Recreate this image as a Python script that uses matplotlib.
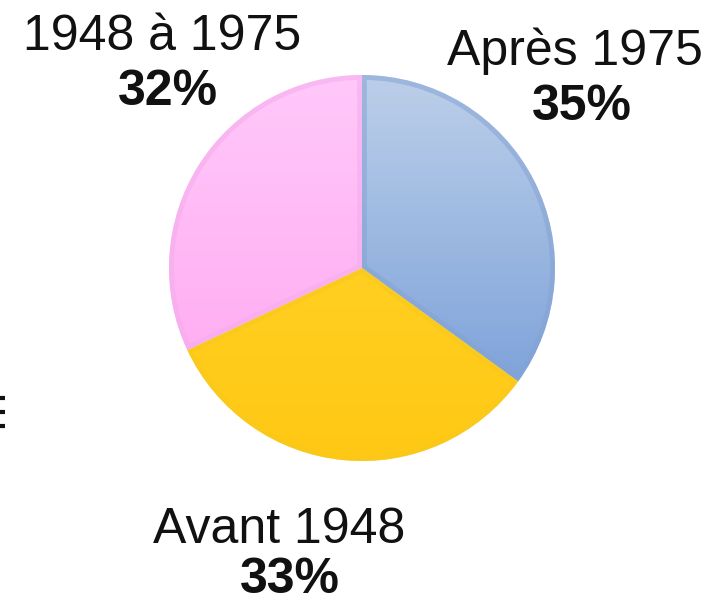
import numpy as np
import matplotlib
matplotlib.use("Agg")
import matplotlib.pyplot as plt
from matplotlib.patches import Wedge
from matplotlib.colors import LinearSegmentedColormap

plt.rcParams['font.family'] = ['Liberation Sans', 'DejaVu Sans']

# data
labels = ['Après 1975', 'Avant 1948', '1948 à 1975']
shares = [35, 33, 32]
# gradient colours (top, bottom) and rim colour per slice
top_cols = ['#bccfe9', '#ffd72f', '#ffc8fa']
bot_cols = ['#6f98d6', '#ffc814', '#ffa4ef']
rim_cols = ['#85a3d4', '#f7c91c', '#f4acec']

# label baselines in pixels (x center, baseline y) for label / percentage
label_pos = [(575, 65), (279, 543), (162, 50)]
pct_pos = [(582, 120), (290, 593), (168, 105)]

W, H = 725, 603
fig = plt.figure(figsize=(W / 100, H / 100), dpi=100)
ax = fig.add_axes([0, 0, 1, 1])

cx, cy, r = 362, H - 268, 193
wedges, _ = ax.pie(shares, startangle=90, counterclock=False, center=(cx, cy),
                   radius=r, frame=True,
                   wedgeprops=dict(linewidth=0, facecolor='none'))
ax.set_xlim(0, W)
ax.set_ylim(0, H)
ax.set_aspect('equal')
ax.axis('off')

grad = np.linspace(0, 1, 256).reshape(-1, 1)
for w, c0, c1, rc in zip(wedges, top_cols, bot_cols, rim_cols):
    cmap = LinearSegmentedColormap.from_list('g', [c0, c1])
    im = ax.imshow(grad, cmap=cmap, extent=(cx - r, cx + r, cy - r, cy + r),
                   origin='upper', aspect='auto', zorder=1, interpolation='bicubic')
    im.set_clip_path(w)
    rim = Wedge(w.center, w.r, w.theta1, w.theta2, facecolor='none',
                edgecolor=rc, linewidth=7, alpha=0.55, zorder=2)
    ax.add_patch(rim)
    rim.set_clip_path(w)

for lab, s, (lx, ly), (px, py) in zip(labels, shares, label_pos, pct_pos):
    ax.text(lx, H - ly, lab, fontsize=36, ha='center', va='baseline', color='#111111')
    ax.text(px, H - py, '%d%%' % s, fontsize=36, fontweight='bold', ha='center',
            va='baseline', color='#111111')

# cropped glyph remnant at the left edge
for yy in (398, 412, 426):
    ax.plot([0, 5], [H - yy, H - yy], color='#111111', lw=3, solid_capstyle='butt')

fig.savefig('out.png', dpi=100)
